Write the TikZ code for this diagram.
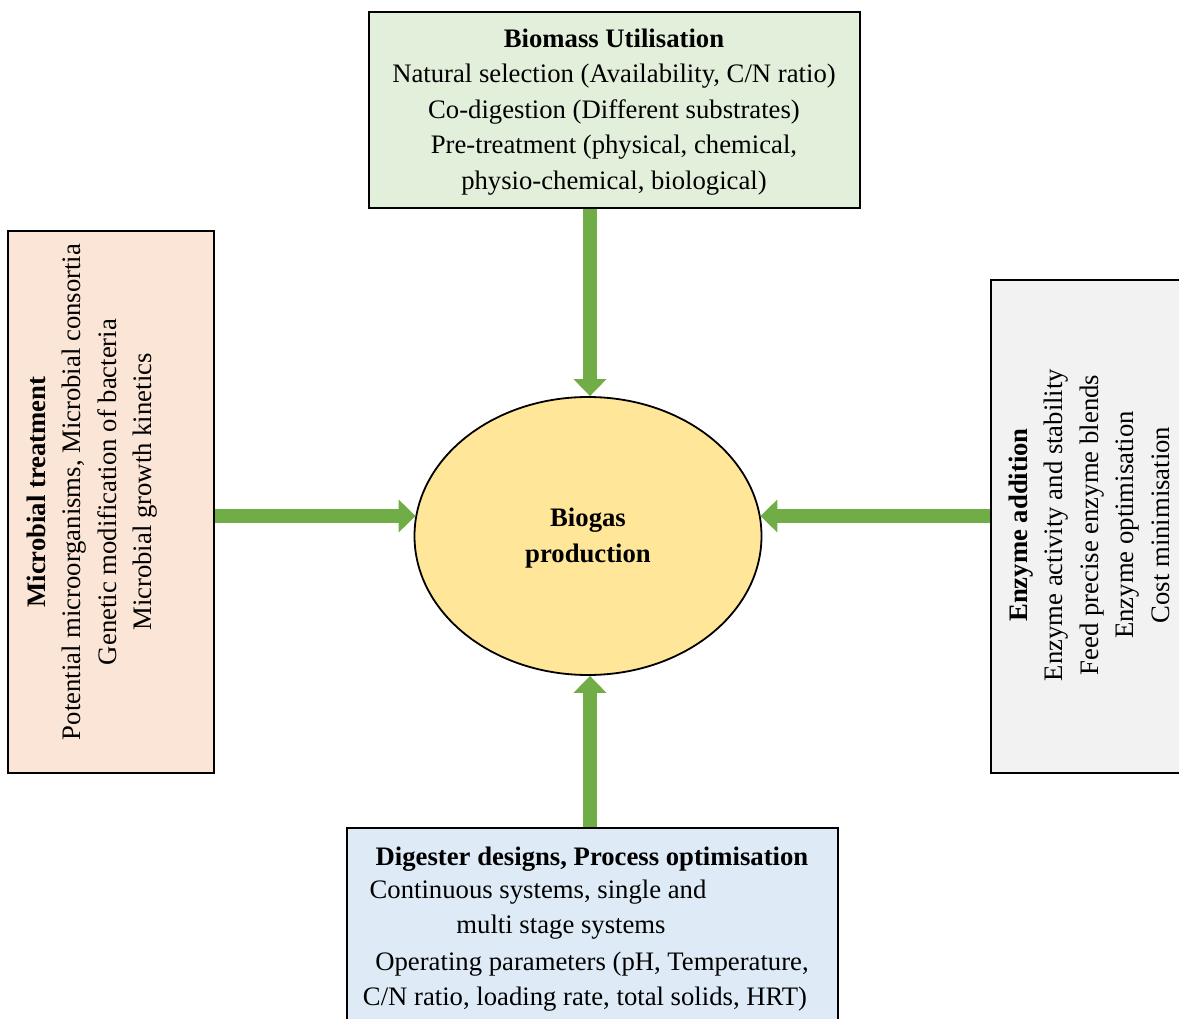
\documentclass[tikz,border=0pt]{standalone}
\usepackage{fontspec}
\setmainfont{Liberation Serif}
\usetikzlibrary{shapes.geometric,arrows.meta}
\definecolor{gArrow}{HTML}{70AD47}
\definecolor{fTop}{HTML}{E2EFDA}
\definecolor{fLeft}{HTML}{FBE5D6}
\definecolor{fRight}{HTML}{F2F2F2}
\definecolor{fBot}{HTML}{DEEBF7}
\definecolor{fEll}{HTML}{FFE699}
\begin{document}
\begin{tikzpicture}[x=1pt,y=-1pt,
  box/.style={draw=black,line width=1.4pt,inner sep=0pt},
  txt/.style={font=\fontsize{26.7}{35.5}\selectfont,align=center,inner sep=0pt},
  bigarrow/.style={draw=gArrow,line width=14pt,-{Triangle[width=32pt,length=17pt]}}]
\useasboundingbox (0,0) rectangle (1179,1019);
% boxes
\node[box,fill=fTop,minimum width=491pt,minimum height=196pt] (top) at (614.5,110) {};
\node[box,fill=fLeft,minimum width=206pt,minimum height=542pt] (left) at (111,502) {};
\node[box,fill=fRight,minimum width=200pt,minimum height=493pt] (right) at (1091,526.5) {};
\node[box,fill=fBot,minimum width=491pt,minimum height=200pt] (bot) at (592.5,928) {};
\node[draw=black,line width=1.8pt,fill=fEll,ellipse,minimum width=347pt,minimum height=278pt,inner sep=0pt] (biogas) at (588,536) {};
% texts
\node[txt] (toptxt) at (614,112) {\textbf{Biomass Utilisation}\\Natural selection (Availability, C/N ratio)\\Co-digestion (Different substrates)\\Pre-treatment (physical, chemical,\\physio-chemical, biological)};
\node[txt,rotate=90] (lefttxt) at (92,492) {\textbf{Microbial treatment}\\Potential microorganisms, Microbial consortia\\Genetic modification of bacteria\\Microbial growth kinetics};
\node[txt,rotate=90] (righttxt) at (1089,525) {\textbf{Enzyme addition}\\Enzyme activity and stability\\Feed precise enzyme blends\\Enzyme optimisation\\Cost minimisation};
\node[txt] (b1) at (592,859) {\textbf{Digester designs, Process optimisation}};
\node[txt] (b2) at (538,892) {Continuous systems, single and};
\node[txt] (b3) at (561,927) {multi stage systems};
\node[txt] (b4) at (592,964) {Operating parameters (pH, Temperature,};
\node[txt] (b5) at (585,999) {C/N ratio, loading rate, total solids, HRT)};
\node[txt,font=\fontsize{26.7}{35.5}\selectfont\bfseries] (bgtxt) at ([yshift=-2pt]biogas.center) {Biogas\\production};
% arrows
\coordinate (arow) at (0,516);
\coordinate (acol) at (590,0);
\draw[bigarrow] (acol |- top.south) -- (acol |- biogas.north);
\draw[bigarrow] (acol |- bot.north) -- (acol |- biogas.south);
\draw[bigarrow] (left.east |- arow) -- ([xshift=2pt]biogas.west |- arow);
\draw[bigarrow] (right.west |- arow) -- ([xshift=-2pt]biogas.east |- arow);
\end{tikzpicture}
\end{document}
